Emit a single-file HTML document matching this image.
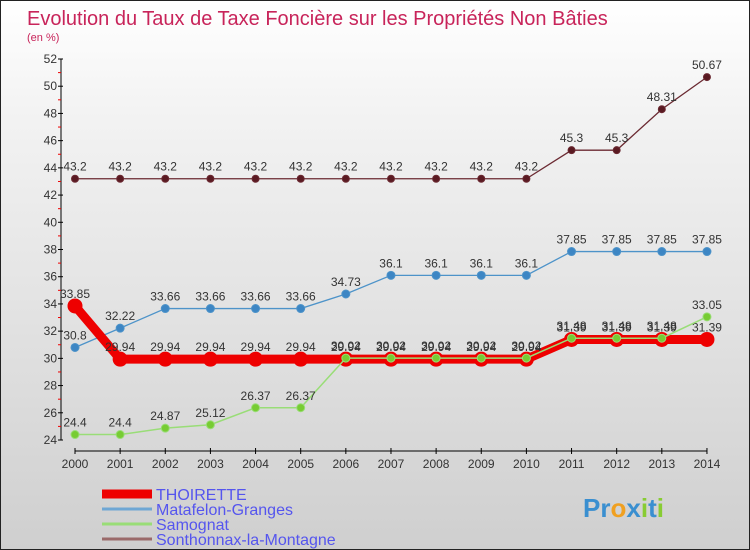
<!DOCTYPE html>
<html><head><meta charset="utf-8"><style>
body{margin:0}
#c{position:relative;width:748px;height:548px;border:1px solid #222;background:linear-gradient(#ffffff,#f3f3f3 20%,#cfcfcf);font-family:"Liberation Sans",sans-serif;overflow:hidden}
</style></head><body>
<div id="c">
<svg id="s" width="748" height="548"></svg>
</div>
<script>
const years=[2000,2001,2002,2003,2004,2005,2006,2007,2008,2009,2010,2011,2012,2013,2014];
const thoirette=[33.85,29.94,29.94,29.94,29.94,29.94,29.94,29.94,29.94,29.94,29.94,31.39,31.39,31.39,31.39];
const matafelon=[30.8,32.22,33.66,33.66,33.66,33.66,34.73,36.1,36.1,36.1,36.1,37.85,37.85,37.85,37.85];
const samognat=[24.4,24.4,24.87,25.12,26.37,26.37,30.02,30.02,30.02,30.02,30.02,31.48,31.48,31.48,33.05];
const sonthonnax=[43.2,43.2,43.2,43.2,43.2,43.2,43.2,43.2,43.2,43.2,43.2,45.3,45.3,48.31,50.67];
const yTicks=[24,26,28,30,32,34,36,38,40,42,44,46,48,50,52];
const NS="http://www.w3.org/2000/svg",s=document.getElementById('s');
const X=i=>74+i*45.14, Y=v=>439-(v-24)/28*381;
function el(t,a,txt){const e=document.createElementNS(NS,t);for(const k in a)e.setAttribute(k,a[k]);if(txt!==undefined)e.textContent=txt;s.appendChild(e);return e;}
let e=el('text',{x:26,y:24,fill:'#c8245a','font-size':20},'Evolution du Taux de Taxe Foncière sur les Propriétés Non Bâties');

e=el('text',{x:26,y:40,fill:'#c8245a','font-size':11},'(en %)');

el('line',{x1:60,y1:Y(52),x2:60,y2:Y(24),stroke:'#000'});
yTicks.forEach(v=>{el('line',{x1:57,x2:62,y1:Y(v),y2:Y(v),stroke:'#000'});
 el('line',{x1:57,x2:60,y1:Y(v+1),y2:Y(v+1),stroke:v<52?'#e00':'none'});
 const t=el('text',{x:56,y:Y(v)+4,'text-anchor':'end','font-size':12,fill:'#333'},v);
 });
el('line',{x1:X(0),x2:X(14),y1:450,y2:450,stroke:'#000'});
years.forEach((y,i)=>{el('line',{x1:X(i),x2:X(i),y1:447,y2:453,stroke:'#000'});
 const t=el('text',{x:X(i),y:467,'text-anchor':'middle','font-size':12,fill:'#333'},y);
 });
function series(d,col,w,r,fill,name){
 const p=el('polyline',{points:d.map((v,i)=>X(i)+','+Y(v)).join(' '),fill:'none',stroke:col,'stroke-width':w});
 
 d.forEach((v,i)=>{const c=el('circle',{cx:X(i),cy:Y(v),r:r,fill:fill,stroke:col,'stroke-width':1});
  
  const t=el('text',{x:X(i),y:Y(v)-8,'text-anchor':'middle','font-size':12,fill:'#333'},v);
  });
}
series(sonthonnax,'#6b2a32',1.3,3.5,'#5a1a22','sonthonnax');
series(matafelon,'#4d93c9',1.3,4,'#3d86c4','matafelon');
series(thoirette,'#ee0000',9,7,'#ee0000','thoirette');
series(samognat,'#99dd77',1.5,4,'#77cc33','samognat');
const leg=[['THOIRETTE','#ee0000',9],['Matafelon-Granges','#6fa7d4',3],['Samognat','#99dd77',3],['Sonthonnax-la-Montagne','#9a6a6a',3]];
leg.forEach((l,i)=>{const y=493+i*15;
 const ln=el('line',{x1:101,x2:151,y1:y,y2:y,stroke:l[1],'stroke-width':l[2]});
 
 const t=el('text',{x:155,y:y+6,'font-size':16,fill:'#5555ee'},l[0]);
 });
const lg=el('text',{x:582,y:516,'font-size':26,'font-weight':'bold',fill:'#3a8fd0'});

[['P','#3a8fd0'],['r','#3a8fd0'],['o','#f0a020'],['x','#3a8fd0'],['i','#88cc33'],['t','#3a8fd0'],['i','#88cc33']].forEach(c=>{const ts=document.createElementNS(NS,'tspan');ts.setAttribute('fill',c[1]);ts.textContent=c[0];lg.appendChild(ts);});
</script>
</body></html>
